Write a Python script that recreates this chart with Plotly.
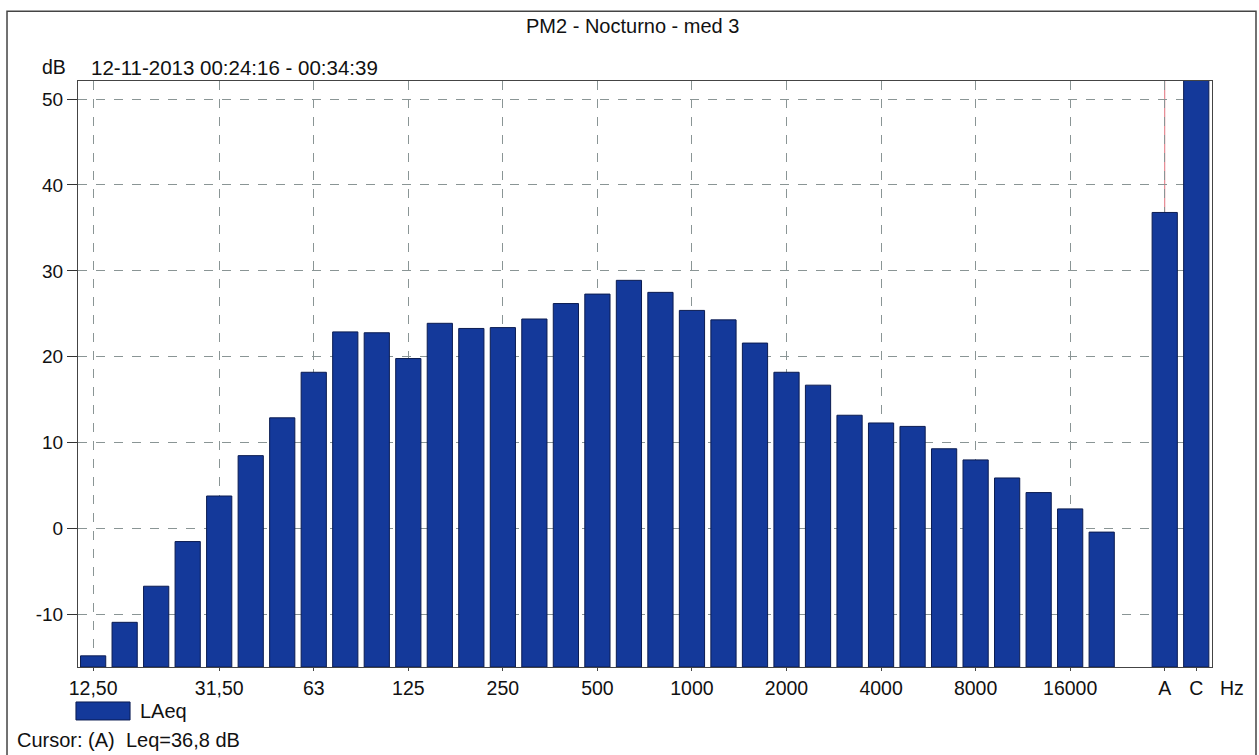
import plotly.graph_objects as go

bands = ["12,50", "16", "20", "25", "31,50", "40", "50", "63", "80", "100", "125", "160",
         "200", "250", "315", "400", "500", "630", "800", "1000", "1250", "1600", "2000",
         "2500", "3150", "4000", "5000", "6300", "8000", "10000", "12500", "16000", "20000",
         "", "A", "C"]
laeq = [-14.8, -10.9, -6.7, -1.5, 3.8, 8.5, 12.9, 18.2, 22.9, 22.8, 19.8, 23.9,
        23.3, 23.4, 24.4, 26.2, 27.3, 28.9, 27.5, 25.4, 24.3, 21.6, 18.2,
        16.7, 13.2, 12.3, 11.9, 9.3, 8.0, 5.9, 4.2, 2.3, -0.4,
        None, 36.8, 56.0]
tick_labels = ["12,50", "31,50", "63", "125", "250", "500", "1000", "2000", "4000",
               "8000", "16000", "A", "C"]
y_ticks = [-10, 0, 10, 20, 30, 40, 50]
y_tick_labels = ["-10", "0", "10", "20", "30", "40", "50"]

title_text = "PM2 - Nocturno - med 3"
date_text = "12-11-2013 00:24:16 - 00:34:39"
cursor_text = "Cursor: (A)  Leq=36,8 dB"
series_name = "LAeq"

Y_BOTTOM = -16.1
Y_TOP = 52.1

xpos = list(range(len(bands)))
tickvals = [bands.index(t) for t in tick_labels]

FONT = "Liberation Sans, Arial, Helvetica, sans-serif"
BAR = "#14399a"
EDGE = "#0b1c52"
GRID = "#8a9595"

fig = go.Figure()
fig.add_trace(go.Bar(
    x=xpos,
    y=[None if v is None else v - Y_BOTTOM for v in laeq],
    base=Y_BOTTOM,
    marker=dict(color=BAR, line=dict(color=EDGE, width=1)),
    width=0.8, name=series_name, showlegend=False,
    customdata=laeq, hovertemplate="%{customdata} dB<extra></extra>",
))

fig.update_layout(
    width=1259, height=755,
    margin=dict(l=78, r=47, t=81, b=88),
    paper_bgcolor="white", plot_bgcolor="white",
    font=dict(family=FONT, size=19, color="#111"),
)
fig.update_xaxes(
    range=[-0.48, 35.5], tickvals=tickvals, ticktext=tick_labels,
    showgrid=True, gridcolor=GRID, griddash="dash", gridwidth=1,
    showline=True, linecolor="#444", linewidth=1.2, mirror=True,
    ticks="outside", ticklen=3, tickcolor="#444", ticklabelstandoff=0,
    tickfont=dict(size=19.5), zeroline=False,
)
fig.update_yaxes(
    range=[Y_BOTTOM, Y_TOP], tickvals=y_ticks, ticktext=y_tick_labels,
    showgrid=True, gridcolor=GRID, griddash="dash", gridwidth=1,
    showline=True, linecolor="#444", linewidth=1.2, mirror=True,
    ticks="outside", ticklen=10, tickcolor="#333",
    tickfont=dict(size=19), zeroline=False,
)

# cursor line at A
fig.add_shape(type="line", xref="x", yref="paper", x0=34, x1=34, y0=0, y1=1,
              line=dict(color="#e0707c", width=1), layer="below")

# outer frame
fig.add_shape(type="rect", xref="paper", yref="paper",
              x0=-0.0626, x1=1.0388, y0=-0.17, y1=1.1189,
              line=dict(color="#444", width=1.5))

# legend swatch
fig.add_shape(type="rect", xref="paper", yref="paper",
              x0=-0.0018, x1=0.0459, y0=-0.0904, y1=-0.0597,
              fillcolor=BAR, line=dict(color=EDGE, width=1))

def ann(size):
    return dict(showarrow=False, xref="paper", yref="paper",
                font=dict(family=FONT, size=size, color="#111"))

fig.add_annotation(text=title_text, x=0.4894, y=1.0933, xanchor="center", yanchor="middle", **ann(20))
fig.add_annotation(text="dB", x=-0.0335, y=1.0234, xanchor="left", yanchor="middle", **ann(19.5))
fig.add_annotation(text=date_text, x=0.0097, y=1.0234, xanchor="left", yanchor="middle", **ann(20.5))
fig.add_annotation(text=series_name, x=0.0529, y=-0.075, xanchor="left", yanchor="middle", **ann(20))
fig.add_annotation(text=cursor_text, x=-0.0556, y=-0.124, xanchor="left", yanchor="middle", **ann(20))
fig.add_annotation(text="Hz", x=1.0176, y=-0.036, xanchor="center", yanchor="middle", **ann(19.5))

fig.write_html("out.html", config={"displayModeBar": False},
               post_script="document.body.style.margin='0';document.body.style.overflow='hidden';")
